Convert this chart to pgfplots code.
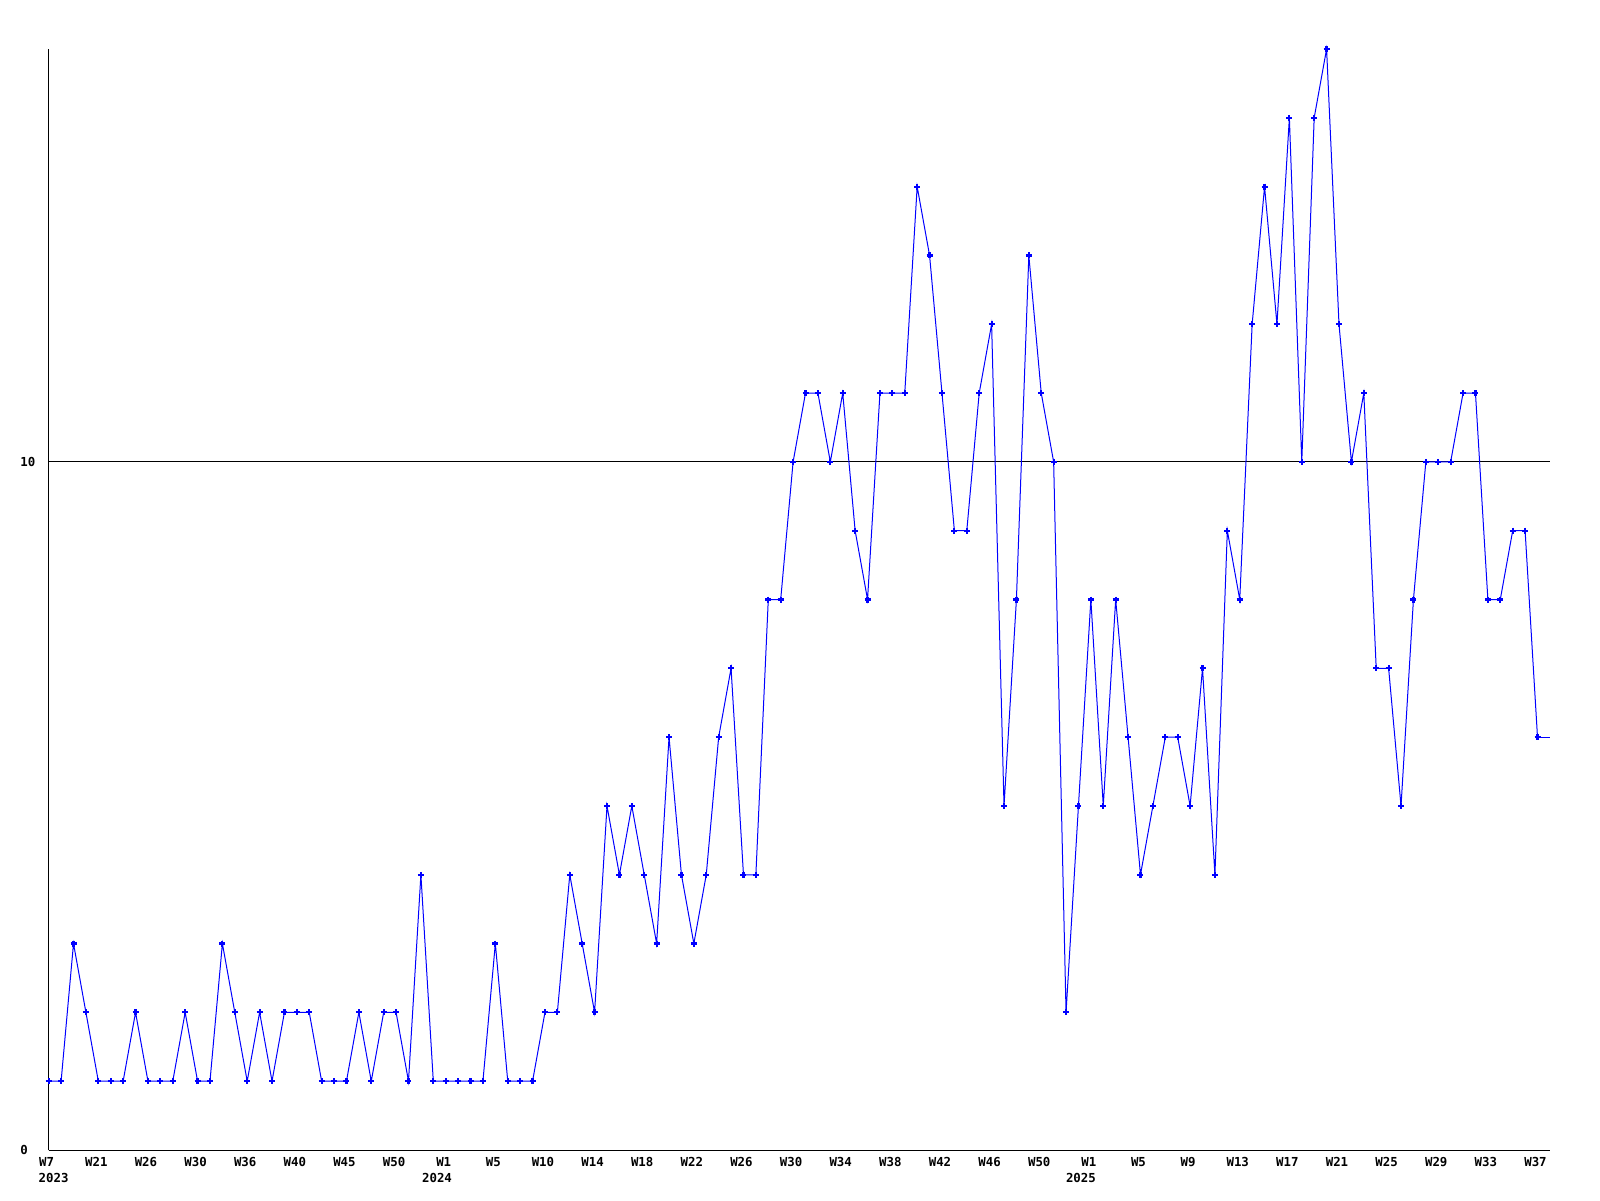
\documentclass[border=0pt]{standalone}
\usepackage{fontspec}
\setmainfont{DejaVu Sans Mono}
\usepackage{pgfplots}
\pgfplotsset{compat=1.18}

\newcommand\lblfont{\fontsize{6.2}{7}\selectfont\bfseries}

\begin{document}
\begin{tikzpicture}
\path[use as bounding box] (-24.35pt,-25pt) rectangle (775.65pt,575pt);
\begin{axis}[
    at={(0,0)}, anchor=south west, scale only axis,
    width=750.6pt, height=550.5pt,
    xmin=0, xmax=121, ymin=0, ymax=16,
    axis x line=bottom, axis y line=left,
    axis line style={-, line width=0.5pt, black},
    major tick length=0pt,
    xtick={0,4,...,120},
    xticklabels={W7,W21,W26,W30,W36,W40,W45,W50,
                 W1,W5,W10,W14,W18,W22,W26,W30,W34,W38,W42,W46,W50,
                 W1,W5,W9,W13,W17,W21,W25,W29,W33,W37},
    ytick={0,10}, yticklabels={0,10},
    ymajorgrids, grid style={black, line width=0.5pt},
    ticklabel style={font=\lblfont, inner sep=0pt},
    xticklabel style={anchor=north, yshift=-3.5pt, xshift=-1pt},
    yticklabel style={anchor=west, xshift=-14.35pt},
    clip=false,
]

% weekly counts, one point per label slot
\addplot[blue, line width=0.5pt, mark=+, mark size=1.5pt,
    mark options={line width=1.1pt}] coordinates {
    (0,1) (1,1) (2,3) (3,2) (4,1) (5,1) (6,1) (7,2) (8,1) (9,1)
    (10,1) (11,2) (12,1) (13,1) (14,3) (15,2) (16,1) (17,2) (18,1) (19,2)
    (20,2) (21,2) (22,1) (23,1) (24,1) (25,2) (26,1) (27,2) (28,2) (29,1)
    (30,4) (31,1) (32,1) (33,1) (34,1) (35,1) (36,3) (37,1) (38,1) (39,1)
    (40,2) (41,2) (42,4) (43,3) (44,2) (45,5) (46,4) (47,5) (48,4) (49,3)
    (50,6) (51,4) (52,3) (53,4) (54,6) (55,7) (56,4) (57,4) (58,8) (59,8)
    (60,10) (61,11) (62,11) (63,10) (64,11) (65,9) (66,8) (67,11) (68,11) (69,11)
    (70,14) (71,13) (72,11) (73,9) (74,9) (75,11) (76,12) (77,5) (78,8) (79,13)
    (80,11) (81,10) (82,2) (83,5) (84,8) (85,5) (86,8) (87,6) (88,4) (89,5)
    (90,6) (91,6) (92,5) (93,7) (94,4) (95,9) (96,8) (97,12) (98,14) (99,12)
    (100,15) (101,10) (102,15) (103,16) (104,12) (105,10) (106,11) (107,7) (108,7) (109,5)
    (110,8) (111,10) (112,10) (113,10) (114,11) (115,11) (116,8) (117,8) (118,9) (119,9)
    (120,6)
};
% last week runs to the edge, no marker
\addplot[blue, line width=0.5pt, mark=none] coordinates {(120,6) (121,6)};

% year labels
\node[font=\lblfont, anchor=north, inner sep=0pt, yshift=-11.3pt] at (axis cs:0.39,0) {2023};
\node[font=\lblfont, anchor=north, inner sep=0pt, yshift=-11.3pt] at (axis cs:31.3,0) {2024};
\node[font=\lblfont, anchor=north, inner sep=0pt, yshift=-11.3pt] at (axis cs:83.2,0) {2025};

\end{axis}
\end{tikzpicture}
\end{document}
